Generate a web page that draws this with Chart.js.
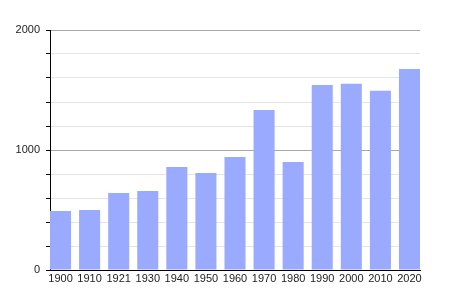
<!DOCTYPE html>
<html>
<head>
<meta charset="utf-8">
<script src="https://cdn.jsdelivr.net/npm/chart.js@4"></script>
<style>
  html, body { margin: 0; padding: 0; background: #fff; }
  #wrap { width: 450px; height: 300px; }
</style>
</head>
<body>
<div id="wrap"><canvas id="chart"></canvas></div>
<script>
// Census years and population counts
const years = ['1900', '1910', '1921', '1930', '1940', '1950', '1960', '1970', '1980', '1990', '2000', '2010', '2020'];
const population = [492, 500, 642, 658, 858, 808, 942, 1333, 900, 1542, 1553, 1494, 1675];
const yTickLabels = ['0', '1000', '2000'];

const BAR_COLOR = '#9aabff';
const FONT = { family: '"Liberation Sans", Arial, sans-serif', size: 11 };

const points = population.map((v, i) => ({ x: i, y: v }));

new Chart(document.getElementById('chart'), {
  type: 'bar',
  data: {
    datasets: [{
      data: points,
      backgroundColor: BAR_COLOR,
      borderWidth: 0,
      categoryPercentage: 1,
      barPercentage: 0.724
    }]
  },
  options: {
    responsive: true,
    maintainAspectRatio: false,
    animation: false,
    layout: { padding: { left: 0, right: 30, top: 30, bottom: 0 } },
    plugins: { legend: { display: false }, tooltip: { enabled: false } },
    scales: {
      x: {
        type: 'linear',
        offset: false,
        min: -0.362,
        max: years.length - 1 + 0.362,
        grid: { display: false, drawTicks: false },
        border: { display: true, color: '#000', width: 1 },
        afterBuildTicks: (scale) => {
          scale.ticks = years.map((_, i) => ({ value: i }));
        },
        afterFit: (scale) => { scale.height = 30; },
        ticks: {
          color: '#222',
          font: FONT,
          padding: 2,
          maxRotation: 0,
          autoSkip: false,
          callback: (value) => years[value] ?? ''
        }
      },
      y: {
        min: 0,
        max: 2000,
        afterFit: (scale) => { scale.width = 50; },
        border: { display: true, color: '#000', width: 1 },
        grid: {
          color: (ctx) => (ctx.tick && ctx.tick.value % 1000 === 0) ? '#a8a8a8' : '#e4e4e4',
          tickColor: '#000',
          tickLength: 4
        },
        ticks: {
          stepSize: 200,
          color: '#222',
          font: FONT,
          padding: 6,
          callback: (value) => yTickLabels.includes(String(value)) ? String(value) : ''
        }
      }
    }
  }
});
</script>
</body>
</html>
